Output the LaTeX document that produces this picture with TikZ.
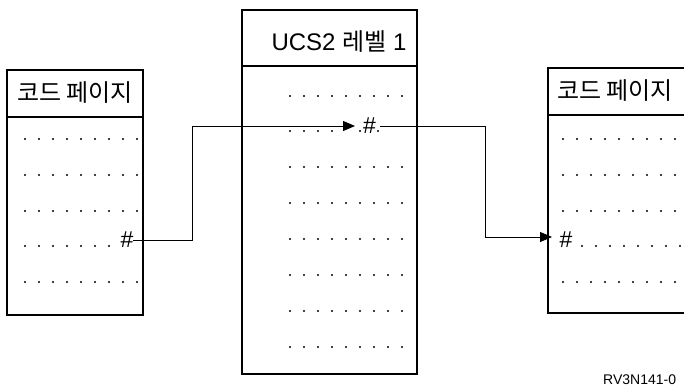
\documentclass[tikz,border=0pt]{standalone}
\usepackage{fontspec}
\setmainfont{Liberation Sans}
\newfontfamily\kr{Noto Sans CJK KR}
\usetikzlibrary{arrows.meta}
\begin{document}
\begin{tikzpicture}[x=1pt,y=-1pt,
  box/.style={draw, line width=1.3pt},
  conn/.style={line width=0.8pt},
  arr/.style={-{Triangle[length=12pt,width=10pt]}},
  head/.style={inner sep=0, font=\fontsize{24}{24}\selectfont},
  hash/.style={inner sep=0, outer sep=0, font=\fontsize{23}{23}\selectfont},
  tag/.style={inner sep=0, anchor=west, font=\fontsize{14}{14}\selectfont}]
\useasboundingbox (0,0) rectangle (684,389);
\clip (0,0) rectangle (684,389);
\fill[white] (0,0) rectangle (684,389);
% boxes
\draw[box] (7,70) rectangle (143,315);
\draw[box] (7,117) -- (143,117);
\draw[box] (242,10) rectangle (417,374);
\draw[box] (242,66) -- (417,66);
\draw[box] (548,68) rectangle (700,313);
\draw[box] (548,115) -- (700,115);
% headers
\node[head] (hL) at (75,93) {\kr 코드 페이지};
\node[head] (hC) at (339,42) {UCS2 {\kr 레벨} 1};
\node[head] (hR) at (615,91) {\kr 코드 페이지};
% dots left
\foreach \y in {139,175,211,282} \foreach \k in {0,...,8} \fill (25+14*\k,\y) circle[radius=1.05pt];
\foreach \k in {0,...,6} \fill (25+14*\k,246) circle[radius=1.05pt];
% dots centre
\foreach \y in {96,167,203,239,275,311,347} \foreach \k in {0,...,8} \fill (290+14*\k,\y) circle[radius=1.05pt];
\foreach \k in {0,...,3} \fill (290+14*\k,131) circle[radius=1.05pt];
\fill (360,131) circle[radius=1.05pt];
\fill (378,131) circle[radius=1.05pt];
% dots right
\foreach \y in {139,175,211,282} \foreach \k in {0,...,8} \fill (563+14*\k,\y) circle[radius=1.05pt];
\foreach \k in {0,...,7} \fill (582+14*\k,246) circle[radius=1.05pt];
% hashes
\node[hash] (h1) at (127,240) {\#};
\node[hash] (h2) at (369.5,126) {\#};
\node[hash] (h3) at (566,240) {\#};
\coordinate (k1) at (192,126);
\coordinate (t1) at (355,126);
\coordinate (k2) at (485,237);
\coordinate (t3) at (552,237);
\draw[conn] (h1.east) -| (k1);
\draw[conn,arr] (k1) -- (t1);
\draw[conn] ([xshift=4pt]h2.east) -| (k2);
\draw[conn,arr] (k2) -- (t3);
\node[tag] (id) at (603,380) {RV3N141-0};
\end{tikzpicture}
\end{document}
